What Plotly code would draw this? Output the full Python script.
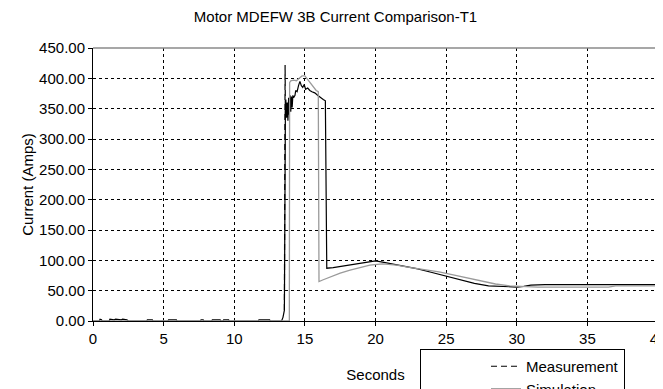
import plotly.graph_objects as go

# Measurement (black) - spike segment at the start of the event
meas_spike_t = [13.55, 13.6, 13.62]
meas_spike_v = [18, 422, 340]

# Measurement (black) - rest of the curve
meas_t = [0, 0.45, 0.5, 0.6, 0.65, 1.15, 1.2, 1.5, 1.6, 2.0, 2.1, 2.4, 2.5,
          3.8, 3.85, 4.2, 4.25, 5.3, 5.35, 5.9, 5.95, 7.6, 7.65, 7.8, 7.85,
          8.4, 8.45, 9.0, 9.05, 9.2, 9.25, 9.6, 9.65, 11.7, 11.75, 12.5, 12.55,
          13.35, 13.45, 13.55,
          13.62, 13.65, 13.7, 13.75, 13.8, 13.85, 13.9, 13.95, 14.0, 14.05, 14.1,
          14.15, 14.2, 14.3, 14.35, 14.45, 14.55, 14.65, 14.75, 14.85, 14.95,
          15.05, 15.2, 15.35, 15.5, 15.7, 15.9, 16.1, 16.3, 16.45, 16.55,
          17.0, 17.5, 18.0, 18.5, 19.0, 19.5, 20.0, 20.5, 21.0, 22.0, 23.0,
          24.0, 25.0, 26.0, 27.0, 28.0, 29.0, 30.0, 30.5, 31.0, 32.0, 34.0,
          36.0, 38.0, 40.0]
meas_v = [0, 0, 3, 2, 0, 0, 3, 2, 3, 2, 3, 2, 0,
          0, 2, 2, 0, 0, 2, 2, 0, 0, 2, 2, 0,
          0, 2, 2, 0, 0, 2, 2, 0, 0, 2, 2, 0,
          0, 6, 18,
          340, 365, 335, 360, 330, 368, 340, 372, 345, 370, 352,
          372, 368, 372, 380, 378, 388, 395, 388, 385, 390,
          382, 384, 380, 378, 376, 372, 368, 365, 363, 87,
          88, 90, 92, 94, 96, 98, 99, 97, 95, 91, 86,
          80, 74, 67, 62, 58, 56.5, 56, 57, 59, 60, 60,
          60, 60, 60]

# Simulation (gray)
sim_t = [0, 13.9, 13.92, 14.0, 14.2, 14.4, 14.6, 14.8, 15.0, 15.2, 15.4, 15.6,
         15.8, 15.95, 16.0, 16.3, 16.8, 17.5, 18.2, 19.0, 19.6, 20.5, 21.5,
         22.5, 23.5, 24.5, 25.5, 26.5, 27.5, 28.5, 29.5, 30.5, 31.5, 33.0,
         35.0, 36.5, 37.0, 40.0]
sim_v = [0, 0, 393, 396, 397, 396, 400, 404, 404, 398, 392, 385,
         380, 378, 65, 68, 73, 79, 84, 89, 92, 94, 92,
         88, 85, 81, 76, 71, 65, 61, 58, 57, 56, 56,
         56, 56, 58, 58]

x_ticks = [0, 5, 10, 15, 20, 25, 30, 35, 40]
y_ticks = [0, 50, 100, 150, 200, 250, 300, 350, 400, 450]

FONT = "Liberation Sans, Arial, sans-serif"
FS = 15

# the page body has an 8px default margin, so the figure is 8px smaller
W, H = 655, 381

fig = go.Figure()
fig.add_trace(go.Scatter(x=meas_t, y=meas_v, mode="lines", showlegend=False,
                         line=dict(color="black", width=1.2), hoverinfo="skip"))
fig.add_trace(go.Scatter(x=meas_spike_t, y=meas_spike_v, mode="lines",
                         name="Measurement",
                         line=dict(color="black", width=1.2, dash="6px,4px")))
fig.add_trace(go.Scatter(x=sim_t, y=sim_v, mode="lines", name="Simulation",
                         line=dict(color="#9a9a9a", width=1.3)))

fig.update_layout(
    width=W, height=H,
    margin=dict(l=85, r=5, t=40, b=68, autoexpand=False),
    paper_bgcolor="white", plot_bgcolor="white",
    font=dict(family=FONT, size=FS, color="black"),
    title=dict(text="Motor MDEFW 3B Current Comparison-T1", x=0.5, xanchor="center",
               y=1 - 9 / H, yanchor="middle", yref="container",
               font=dict(family=FONT, size=FS, color="black")),
    xaxis=dict(range=[0, 40], tickvals=x_ticks, ticktext=[str(v) for v in x_ticks],
               showgrid=True, gridcolor="black", griddash="3px,3px", gridwidth=1,
               showline=True, linecolor="black", linewidth=1,
               ticks="outside", ticklen=4, tickcolor="black",
               ticklabeloverflow="allow",
               zeroline=False,
               title=dict(text="Seconds", standoff=23, font=dict(size=FS))),
    yaxis=dict(range=[0, 450], tickvals=y_ticks, tickformat=".2f",
               showgrid=True, gridcolor="black", griddash="3px,3px", gridwidth=1,
               showline=True, linecolor="black", linewidth=1,
               ticks="outside", ticklen=4, tickcolor="black",
               zeroline=False,
               title=dict(text="Current (Amps)", standoff=1, font=dict(size=FS))),
    legend=dict(x=(420 - 93) / 565, y=-(349 - 321) / 273, xanchor="left", yanchor="top",
                bgcolor="white", bordercolor="black", borderwidth=1,
                font=dict(family=FONT, size=FS), indentation=65,
                tracegroupgap=0),
    showlegend=True,
)

# gray plot-area border on top and right
fig.add_shape(type="line", xref="paper", yref="paper", x0=0, x1=1, y0=1, y1=1,
              line=dict(color="#8a8a8a", width=1.5))
fig.add_shape(type="line", xref="paper", yref="paper", x0=1, x1=1, y0=0, y1=1,
              line=dict(color="#8a8a8a", width=1.5))

fig.write_html("out.html")
